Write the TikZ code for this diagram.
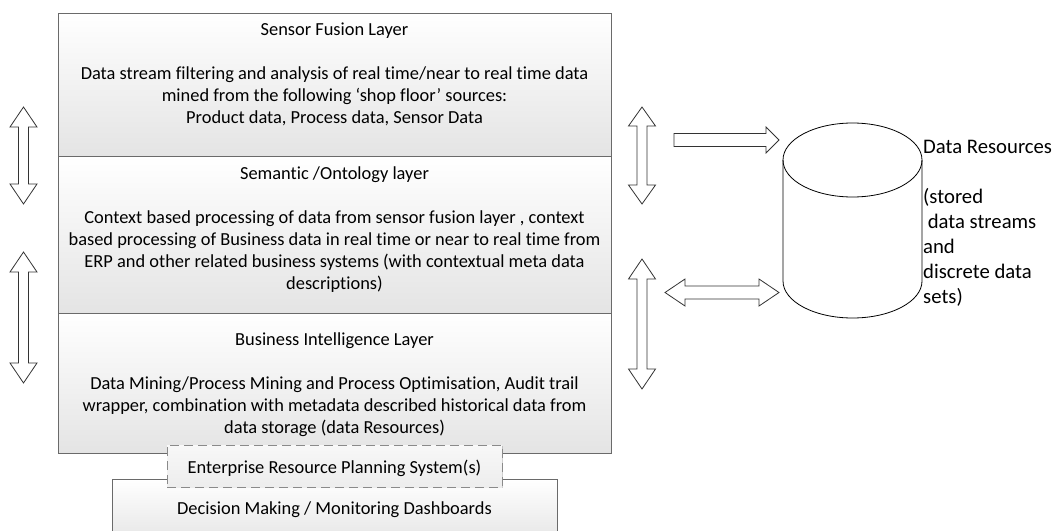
\documentclass[tikz,border=0pt]{standalone}
\usepackage{fontspec}
\setmainfont{Carlito}[Ligatures=NoCommon]
\usetikzlibrary{shadows}
\definecolor{boxgray}{HTML}{E4E4E4}
\definecolor{edge}{HTML}{6A6A6A}
\definecolor{dashgray}{HTML}{8A8A8A}
\definecolor{erpgray}{HTML}{EDEDED}
% vertical double block arrow: centre x, top y, bottom y, head length
\newcommand\vdarrow[4]{%
  \draw[blockarrow] (#1,#2) -- ({#1+13.5},{#2+#4}) -- ({#1+5},{#2+#4}) -- ({#1+5},{#3-#4})
    -- ({#1+13.5},{#3-#4}) -- (#1,#3) -- ({#1-13.5},{#3-#4}) -- ({#1-5},{#3-#4})
    -- ({#1-5},{#2+#4}) -- ({#1-13.5},{#2+#4}) -- cycle;}
\begin{document}
\begin{tikzpicture}[x=1pt,y=-1pt,
  layer/.style={draw=edge, line width=1pt, top color=white, bottom color=boxgray,
    drop shadow={shadow xshift=1.3pt, shadow yshift=-1.3pt, fill=black, opacity=0.25},
    inner sep=0pt, minimum width=553pt},
  btext/.style={font=\fontsize{18.4}{22}\selectfont, align=center, inner sep=0pt,
    anchor=north, execute at begin node=\strut},
  rtext/.style={font=\fontsize{20.7}{25}\selectfont, align=left, inner sep=0pt,
    anchor=north west, execute at begin node=\strut},
  blockarrow/.style={draw=black!80, line width=0.8pt, fill=white, line join=miter}]
\useasboundingbox (0,0) rectangle (1062,530);
\clip (0,0) rectangle (1062,530);

% layers
\node[layer, minimum height=143pt] (sf) at (334.5,84.5) {};
\node[layer, minimum height=157pt] (so) at (334.5,234.5) {};
\node[layer, minimum height=140pt] (bi) at (334.5,383) {};
\node[layer, minimum width=445pt, minimum height=66pt] (dm) at (334.5,512) {};
\node[draw=dashgray, line width=1pt, dash pattern=on 9pt off 5pt, top color=white!60!erpgray,
  bottom color=erpgray, drop shadow={shadow xshift=1.3pt, shadow yshift=-1.3pt, fill=black, opacity=0.2},
  minimum width=335pt, minimum height=42pt, inner sep=0pt] (erp) at (334.5,466) {};

% texts
\node[btext] (sft) at (334.5,22.9) {Sensor Fusion Layer\\[22pt]
  Data stream filtering and analysis of real time/near to real time data\\
  mined from the following ‘shop floor’ sources:\\
  Product data, Process data, Sensor Data};
\node[btext] (sot) at (334.5,166.9) {Semantic /Ontology layer\\[22pt]
  Context based processing of data from sensor fusion layer , context\\
  based processing of Business data in real time or near to real time from\\
  ERP and other related business systems (with contextual meta data\\
  descriptions)};
\node[btext] (bit) at (334.5,332.9) {Business Intelligence Layer\\[22pt]
  Data Mining/Process Mining and Process Optimisation, Audit trail\\
  wrapper, combination with metadata described historical data from\\
  data storage (data Resources)};
\node[btext] (erpt) at (334.5,458) {Enterprise Resource Planning System(s)};
\node[btext] (dmt) at (334.5,498.8) {Decision Making / Monitoring Dashboards};

% vertical double arrows
\vdarrow{23.5}{107}{204}{20}
\vdarrow{23.5}{252}{383}{20}
\vdarrow{642}{107}{204}{19}
\vdarrow{642}{259}{389}{20}

% right single arrow
\draw[blockarrow] (674,133.5) -- (766,133.5) -- (766,127) -- (779,140) -- (766,153)
  -- (766,146.5) -- (674,146.5) -- cycle;
% right double arrow
\draw[blockarrow] (665,292.5) -- (685,279) -- (685,286) -- (759,286) -- (759,279)
  -- (779,292.5) -- (759,306) -- (759,299) -- (685,299) -- (685,306) -- cycle;

% cylinder
\coordinate (cyl) at (852.5,220);
\draw[line width=0.8pt, fill=white] (783,160) -- (783,281)
  arc[start angle=180, end angle=0, x radius=69.5, y radius=37] -- (922,160);
\draw[line width=0.8pt] (852.5,160) ellipse [x radius=69.5, y radius=37];

\node[rtext] (drt) at (923,140) {Data Resources\\[25pt]
  (stored\\
  \hspace*{4.6pt}data streams\\
  and\\
  discrete data\\
  sets)};
\end{tikzpicture}
\end{document}
